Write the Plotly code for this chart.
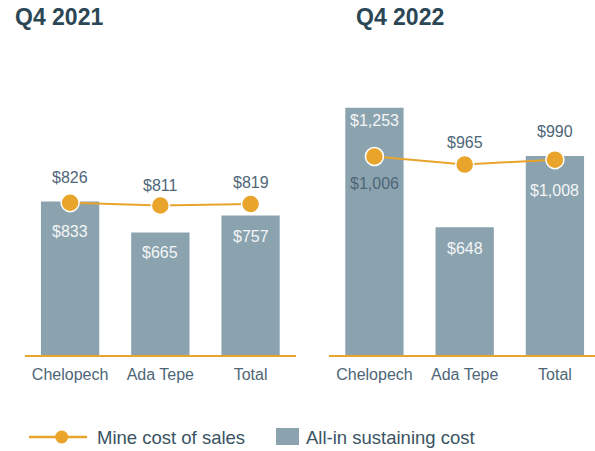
import plotly.graph_objects as go

categories = ["Chelopech", "Ada Tepe", "Total"]
aisc_2021 = [833, 665, 757]
mcs_2021 = [826, 811, 819]
aisc_2022 = [1253, 648, 1008]
mcs_2022 = [1006, 965, 990]
panel_titles = ["Q4 2021", "Q4 2022"]
legend_names = ["Mine cost of sales", "All-in sustaining cost"]

W, H = 595, 451
BAR = "#8BA3AF"
ORANGE = "#E8A42B"
SLATE = "#4E6677"
DARK = "#2B4756"
FONT = "Liberation Sans, Arial, sans-serif"

def px(xp):
    return xp / W

def py(yp):
    return (H - yp) / H

fig = go.Figure()

panels = [
    ("x", "y", aisc_2021, mcs_2021),
    ("x2", "y2", aisc_2022, mcs_2022),
]
for xa, ya, bars, line in panels:
    fig.add_trace(go.Bar(x=categories, y=bars, xaxis=xa, yaxis=ya,
                         marker=dict(color=BAR, line=dict(width=0)),
                         showlegend=False, hoverinfo="skip"))
    fig.add_trace(go.Scatter(x=categories, y=line, xaxis=xa, yaxis=ya,
                             mode="lines+markers",
                             line=dict(color=ORANGE, width=2),
                             marker=dict(size=18, color=ORANGE,
                                         line=dict(color="white", width=1.5)),
                             showlegend=False, hoverinfo="skip"))

def money(v):
    return "${:,}".format(v)

annotations = []
# label offsets (pixels) relative to the data value
bar_shift_2021 = [-30, -20, -21]
line_shift_2021 = [25, 20, 22]
bar_shift_2022 = [-13, -21, -34]
line_shift_2022 = [-27, 22, 28]

for i, c in enumerate(categories):
    annotations.append(dict(x=c, y=aisc_2021[i], xref="x", yref="y", yshift=bar_shift_2021[i],
                            text=money(aisc_2021[i]), showarrow=False,
                            font=dict(size=16, color="#F4F6F7", family=FONT)))
    annotations.append(dict(x=c, y=mcs_2021[i], xref="x", yref="y", yshift=line_shift_2021[i],
                            text=money(mcs_2021[i]), showarrow=False,
                            font=dict(size=16, color=SLATE, family=FONT)))
    annotations.append(dict(x=c, y=aisc_2022[i], xref="x2", yref="y2", yshift=bar_shift_2022[i],
                            text=money(aisc_2022[i]), showarrow=False,
                            font=dict(size=16, color="#F4F6F7", family=FONT)))
    annotations.append(dict(x=c, y=mcs_2022[i], xref="x2", yref="y2", yshift=line_shift_2022[i],
                            text=money(mcs_2022[i]), showarrow=False,
                            font=dict(size=16, color=SLATE, family=FONT)))

# panel titles
for t, xl in zip(panel_titles, [12.5, 354]):
    annotations.append(dict(x=px(xl), y=py(17), xref="paper", yref="paper",
                            xanchor="left", yanchor="middle", text="<b>%s</b>" % t,
                            showarrow=False, font=dict(size=23, color=DARK, family=FONT)))

# legend texts
annotations.append(dict(x=px(95), y=py(437), xref="paper", yref="paper",
                        xanchor="left", yanchor="middle", text=legend_names[0],
                        showarrow=False, font=dict(size=18.5, color="#3A5363", family=FONT)))
annotations.append(dict(x=px(304), y=py(437), xref="paper", yref="paper",
                        xanchor="left", yanchor="middle", text=legend_names[1],
                        showarrow=False, font=dict(size=18.5, color="#3A5363", family=FONT)))

shapes = [
    dict(type="line", xref="paper", yref="paper", x0=px(29), x1=px(87), y0=py(437), y1=py(437),
         line=dict(color=ORANGE, width=2.5)),
    dict(type="circle", xref="paper", yref="paper", x0=px(55.2), x1=px(68.2), y0=py(443.5), y1=py(430.5),
         fillcolor=ORANGE, line=dict(color=ORANGE, width=0)),
    dict(type="rect", xref="paper", yref="paper", x0=px(276), x1=px(299), y0=py(445), y1=py(428),
         fillcolor=BAR, line=dict(width=0)),
]

y_dom = [py(355), py(60)]
axis_common = dict(showgrid=False, zeroline=False, showline=True, linecolor=ORANGE, linewidth=2,
                   ticks="", ticklabelstandoff=4,
                   tickfont=dict(size=16, color=SLATE, family=FONT), fixedrange=True)
yaxis_common = dict(showgrid=False, zeroline=False, showline=False, showticklabels=False,
                    ticks="", fixedrange=True)

fig.update_layout(
    width=W, height=H,
    margin=dict(l=0, r=0, t=0, b=0),
    paper_bgcolor="white", plot_bgcolor="white",
    bargap=0.354,
    showlegend=False,
    font=dict(family=FONT),
    xaxis=dict(domain=[px(25), px(295.7)], range=[-0.5, 2.5], anchor="y", **axis_common),
    xaxis2=dict(domain=[px(329.3), 1.0], range=[-0.5, 2.444], anchor="y2", **axis_common),
    yaxis=dict(domain=y_dom, range=[0, 1600], anchor="x", **yaxis_common),
    yaxis2=dict(domain=y_dom, range=[0, 1495], anchor="x2", **yaxis_common),
    annotations=annotations,
    shapes=shapes,
)

fig.write_html("out.html", config={"displayModeBar": False},
               post_script="document.body.style.margin='0';document.body.style.overflow='hidden';")
